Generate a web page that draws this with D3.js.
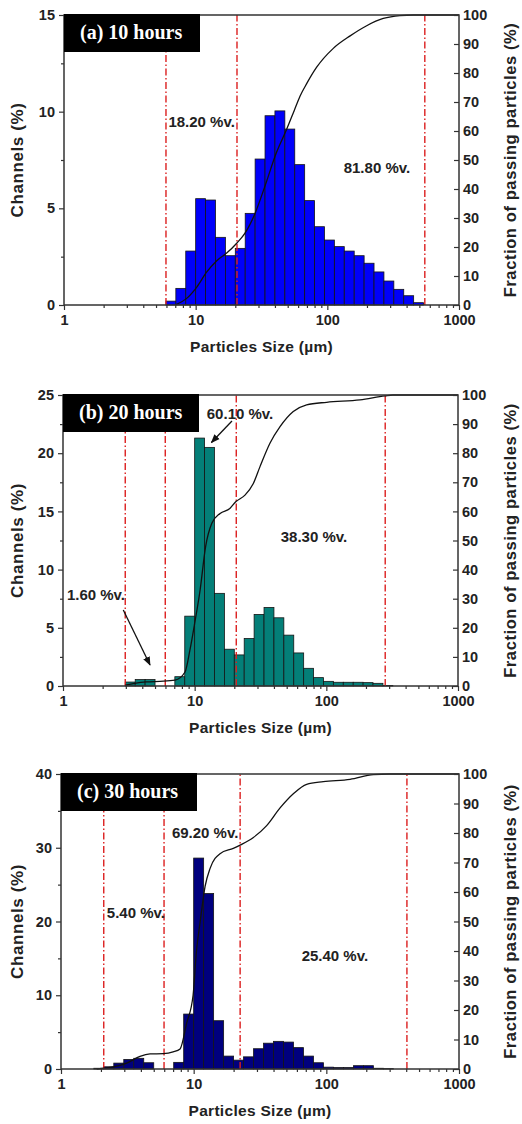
<!DOCTYPE html>
<html>
<head>
<meta charset="utf-8">
<script src="https://cdn.jsdelivr.net/npm/d3@7"></script>
<style>
  body { margin: 0; background: #fff; }
  svg { display: block; }
  .tick text { font-family: "Liberation Sans", Arial, sans-serif; font-weight: bold; font-size: 14.5px; fill: #222; }
  .tick line { stroke: #333; stroke-width: 1.2; }
  .domain { display: none; }
</style>
</head>
<body>
<div id="chart"></div>
<script>
// size classes (µm) of the analyser, lower/upper edges of each channel
const binEdges = [1.768, 2.102, 2.5, 2.973, 3.536, 4.204, 5.0, 5.946, 7.071, 8.409, 10,
  11.89, 14.14, 16.82, 20, 23.78, 28.28, 33.64, 40, 47.57, 56.57, 67.27, 80, 95.14,
  113.1, 134.5, 160, 190.3, 226.3, 269.1, 320, 380.5, 452.5, 538.2];

// channel values (%) for each class
const channels10h = [0, 0, 0, 0, 0, 0, 0, 0.2, 0.86, 2.79, 5.5, 5.43, 3.5, 2.55, 2.93, 4.74,
  7.55, 9.79, 10.04, 9.1, 7.26, 5.4, 4.05, 3.36, 3.02, 2.79, 2.55, 2.16, 1.71, 1.24, 0.81, 0.48, 0.12];
const channels20h = [0, 0, 0, 0.34, 0.55, 0.55, 0, 0, 0.8, 6.0, 21.3, 20.5, 7.96, 3.16, 2.67, 4.08,
  6.15, 6.75, 5.86, 4.37, 2.84, 1.52, 0.72, 0.4, 0.32, 0.32, 0.32, 0.29, 0.23, 0.05, 0, 0, 0];
const channels30h = [0.1, 0.3, 0.8, 1.3, 1.45, 0.85, 0, 0, 0.9, 7.45, 28.6, 23.8, 6.55, 1.75, 1.2, 1.65,
  2.75, 3.5, 3.75, 3.65, 2.9, 1.75, 0.85, 0.25, 0.2, 0.2, 0.45, 0.45, 0.1, 0.05, 0, 0, 0];

// cumulative passing curves (size µm, %)
const passSize10h = [7.0, 8.5, 10.2, 12.1, 14.4, 17.2, 20.5, 23.7, 28.2, 33.6, 41, 49, 56, 62, 70, 83, 111, 149, 199, 266, 356, 450, 1000];
const passPct10h  = [0, 2.2, 6.2, 11.3, 15.2, 17.9, 21.3, 24.8, 31.5, 41, 52.5, 60.5, 67, 72, 76.5, 82, 88.5, 92.8, 96.3, 98.8, 99.8, 100, 100];
const passSize20h = [2.97, 3.5, 4.3, 5.45, 7.09, 8.45, 9.2, 10, 11, 12.1, 13.5, 15.6, 18.5, 20.5, 24.1, 27.9, 31.3, 37.3, 44.5, 56.1, 70.8, 100.6, 180, 279, 320, 1000];
const passPct20h  = [0.3, 0.9, 1.4, 1.6, 2, 4.8, 12.3, 21.5, 33, 47.8, 55.9, 59.3, 61, 63.3, 65.6, 69.6, 75.3, 83.4, 89.1, 94.3, 96.6, 97.5, 98.3, 99.7, 100, 100];
const passSize30h = [1.86, 2.48, 3.13, 3.94, 4.69, 5.9, 7.0, 7.9, 8.85, 9.9, 10.5, 11.2, 12.2, 13.3, 15.8, 19.9, 22.6, 28.2, 35.5, 44.8, 56.4, 71.1, 94.9, 151, 226, 300, 1000];
const passPct30h  = [0, 0.7, 2, 4.3, 5.1, 5.2, 5.8, 6.8, 15.5, 25, 40, 50, 62, 68, 73, 74.8, 76, 78.5, 82.5, 88.5, 93.3, 96.5, 97.4, 98.2, 99.8, 100, 100];

// dash-dot cut sizes (µm)
const cuts10h = [5.95, 20.6, 550];
const cuts20h = [2.97, 5.98, 20.7, 280];
const cuts30h = [2.1, 5.98, 22.4, 405];

// fraction annotations: text, size (µm), channel (%)
const notes10h = [['18.20 %v.', 11.1, 9.2], ['81.80 %v.', 238, 6.83]];
const notes20h = [['60.10 %v.', 22.1, 22.94], ['38.30 %v.', 80.6, 12.37], ['1.60 %v.', 1.78, 7.39]];
const notes30h = [['69.20 %v.', 12.2, 31.34], ['5.40 %v.', 3.67, 20.5], ['25.40 %v.', 116, 14.67]];
// arrows: [fromSize, fromCh, toSize, toCh]
const arrows20h = [[19.2, 22.77, 13.4, 20.92], [2.87, 6.53, 4.58, 1.8]];

// ticks
const xTicks = [1, 10, 100, 1000];
const xMinor = [2, 3, 4, 5, 6, 7, 8, 9, 20, 30, 40, 50, 60, 70, 80, 90, 200, 300, 400, 500, 600, 700, 800, 900];
const pctTicks = [0, 10, 20, 30, 40, 50, 60, 70, 80, 90, 100];
const yTicks10h = [0, 5, 10, 15], yMinor10h = [2.5, 7.5, 12.5];
const yTicks20h = [0, 5, 10, 15, 20, 25], yMinor20h = [2.5, 7.5, 12.5, 17.5, 22.5];
const yTicks30h = [0, 10, 20, 30, 40], yMinor30h = [5, 15, 25, 35];

const panels = [
  { title: '(a) 10 hours', ch: channels10h, ps: passSize10h, pp: passPct10h, cuts: cuts10h, notes: notes10h, arrows: [],
    yMax: 15, yTicks: yTicks10h, yMinor: yMinor10h, color: '#0000fa', box: { left: 64, right: 459, top: 15, bottom: 305 } },
  { title: '(b) 20 hours', ch: channels20h, ps: passSize20h, pp: passPct20h, cuts: cuts20h, notes: notes20h, arrows: arrows20h,
    yMax: 25, yTicks: yTicks20h, yMinor: yMinor20h, color: '#047f78', box: { left: 63, right: 458, top: 395, bottom: 686 } },
  { title: '(c) 30 hours', ch: channels30h, ps: passSize30h, pp: passPct30h, cuts: cuts30h, notes: notes30h, arrows: [],
    yMax: 40, yTicks: yTicks30h, yMinor: yMinor30h, color: '#00007e', box: { left: 61, right: 459, top: 774, bottom: 1069 } }
];

const width = 522, height = 1124;
const sans = '"Liberation Sans", Arial, sans-serif';

const svg = d3.select('#chart').append('svg')
  .attr('width', width)
  .attr('height', height);

svg.append('defs').append('marker')
  .attr('id', 'arrow')
  .attr('viewBox', '0 0 10 10')
  .attr('refX', 9).attr('refY', 5)
  .attr('markerWidth', 9).attr('markerHeight', 9)
  .attr('markerUnits', 'userSpaceOnUse')
  .attr('orient', 'auto')
  .append('path')
  .attr('d', 'M0,1 L10,5 L0,9 Z')
  .attr('fill', '#111');

panels.forEach(p => {
  const b = p.box;
  const x = d3.scaleLog().domain([1, 1000]).range([b.left, b.right]);
  const y = d3.scaleLinear().domain([0, p.yMax]).range([b.bottom, b.top]);
  const y2 = d3.scaleLinear().domain([0, 100]).range([b.bottom, b.top]);
  const g = svg.append('g');

  // histogram bars
  const bins = p.ch.map((v, i) => ({ x0: binEdges[i], x1: binEdges[i + 1], v: v })).filter(d => d.v > 0);
  g.selectAll('rect.bar')
    .data(bins)
    .enter()
    .append('rect')
    .attr('class', 'bar')
    .attr('x', d => x(d.x0))
    .attr('width', d => x(d.x1) - x(d.x0))
    .attr('y', d => y(d.v))
    .attr('height', d => y(0) - y(d.v))
    .attr('fill', p.color)
    .attr('stroke', '#151515')
    .attr('stroke-width', 0.8);

  // red dash-dot cut lines
  g.selectAll('line.cut')
    .data(p.cuts)
    .enter()
    .append('line')
    .attr('x1', d => x(d)).attr('x2', d => x(d))
    .attr('y1', b.bottom).attr('y2', b.top)
    .attr('stroke', '#dc1f1f')
    .attr('stroke-width', 1.4)
    .attr('stroke-dasharray', '7,2.5,1.5,2.5');

  // cumulative passing curve
  const line = d3.line()
    .x(d => x(d[0]))
    .y(d => y2(d[1]))
    .curve(d3.curveMonotoneX);
  g.append('path')
    .datum(p.ps.map((s, i) => [s, p.pp[i]]))
    .attr('d', line)
    .attr('fill', 'none')
    .attr('stroke', '#111')
    .attr('stroke-width', 1.3);

  // frame
  g.append('rect')
    .attr('x', b.left).attr('y', b.top)
    .attr('width', b.right - b.left).attr('height', b.bottom - b.top)
    .attr('fill', 'none').attr('stroke', '#333').attr('stroke-width', 1.5);

  // axes
  g.append('g').attr('transform', `translate(0,${b.bottom})`)
    .call(d3.axisBottom(x).tickValues(xTicks).tickFormat(d3.format('d')).tickSize(5).tickPadding(5));
  g.append('g').attr('transform', `translate(0,${b.bottom})`)
    .call(d3.axisBottom(x).tickValues(xMinor).tickFormat('').tickSize(3));
  g.append('g').attr('transform', `translate(${b.left},0)`)
    .call(d3.axisLeft(y).tickValues(p.yTicks).tickFormat(d3.format('d')).tickSize(5).tickPadding(4));
  g.append('g').attr('transform', `translate(${b.left},0)`)
    .call(d3.axisLeft(y).tickValues(p.yMinor).tickFormat('').tickSize(3));
  g.append('g').attr('transform', `translate(${b.right},0)`)
    .call(d3.axisRight(y2).tickValues(pctTicks).tickFormat(d3.format('d')).tickSize(-5).tickPadding(4));

  // axis titles
  g.append('text')
    .attr('x', (b.left + b.right) / 2).attr('y', b.bottom + 47)
    .attr('text-anchor', 'middle')
    .attr('font-family', sans).attr('font-weight', 'bold').attr('font-size', 15.5)
    .attr('letter-spacing', 0.3).attr('fill', '#222')
    .text('Particles Size (µm)');
  g.append('text')
    .attr('transform', `translate(23,${(b.top + b.bottom) / 2}) rotate(-90)`)
    .attr('text-anchor', 'middle')
    .attr('font-family', sans).attr('font-weight', 'bold').attr('font-size', 17)
    .attr('letter-spacing', 0.6).attr('fill', '#222')
    .text('Channels (%)');
  g.append('text')
    .attr('transform', `translate(516,${(b.top + b.bottom) / 2}) rotate(-90)`)
    .attr('text-anchor', 'middle')
    .attr('font-family', sans).attr('font-weight', 'bold').attr('font-size', 16.5)
    .attr('letter-spacing', 0.6).attr('fill', '#222')
    .text('Fraction of passing particles (%)');

  // fraction labels
  g.selectAll('text.note')
    .data(p.notes)
    .enter()
    .append('text')
    .attr('x', d => x(d[1])).attr('y', d => y(d[2]))
    .attr('text-anchor', 'middle')
    .attr('font-family', sans).attr('font-weight', 'bold').attr('font-size', 15)
    .attr('fill', '#222')
    .text(d => d[0]);

  g.selectAll('line.arrow')
    .data(p.arrows)
    .enter()
    .append('line')
    .attr('x1', d => x(d[0])).attr('y1', d => y(d[1]))
    .attr('x2', d => x(d[2])).attr('y2', d => y(d[3]))
    .attr('stroke', '#111').attr('stroke-width', 1.3)
    .attr('marker-end', 'url(#arrow)');

  // black title box
  g.append('rect')
    .attr('x', b.left).attr('y', b.top - 1)
    .attr('width', 136).attr('height', 38)
    .attr('fill', '#000');
  g.append('text')
    .attr('x', b.left + 16).attr('y', b.top + 24)
    .attr('font-family', '"Liberation Serif", "Times New Roman", serif')
    .attr('font-weight', 'bold').attr('font-size', 20)
    .attr('fill', '#fff')
    .text(p.title);
});
</script>
</body>
</html>
